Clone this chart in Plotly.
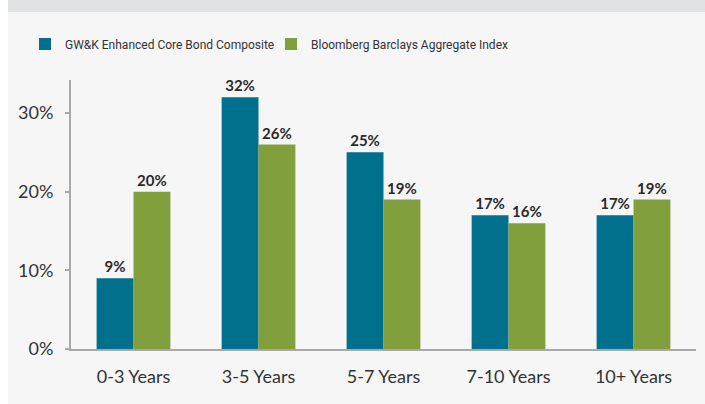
import plotly.graph_objects as go

categories = ["0-3 Years", "3-5 Years", "5-7 Years", "7-10 Years", "10+ Years"]
gwk_values = [9, 32, 25, 17, 17]
bbg_values = [20, 26, 19, 16, 19]
series_names = ["GW&K Enhanced Core Bond Composite", "Bloomberg Barclays Aggregate Index"]
y_ticks = [0, 10, 20, 30]
y_tick_labels = ["0%", "10%", "20%", "30%"]

W, H = 705, 404
ML, MR, MT, MB = 71, 9, 80, 55
PW, PH = W - ML - MR, H - MT - MB

FONT = "Lato, Open Sans, sans-serif"
LEG_FONT = "Roboto, sans-serif"

fig = go.Figure()
for name, vals, color in [(series_names[0], gwk_values, "#00708d"),
                          (series_names[1], bbg_values, "#829f3d")]:
    fig.add_trace(go.Bar(
        name=name, x=categories, y=vals, marker=dict(color=color, line=dict(width=0)),
        text=[f"{v}%" for v in vals], textposition="outside",
        textfont=dict(family=FONT, size=15, color="#2a2a2a", weight="bold"),
        cliponaxis=False,
    ))

def px_x(p):
    return (p - ML) / PW

def px_y(p):
    return (H - MB - p) / PH

shapes = [
    dict(type="rect", xref="paper", yref="paper", x0=px_x(8), x1=px_x(W), y0=px_y(H), y1=px_y(12),
         fillcolor="#f6f6f6", line=dict(width=0), layer="below"),
    dict(type="rect", xref="paper", yref="paper", x0=px_x(8), x1=px_x(W), y0=px_y(12), y1=px_y(0),
         fillcolor="#e1e2e4", line=dict(width=0), layer="below"),
]

fig.update_layout(
    width=W, height=H,
    margin=dict(l=ML, r=MR, t=MT, b=MB, pad=0),
    paper_bgcolor="white", plot_bgcolor="rgba(0,0,0,0)",
    barmode="group", bargap=0.41, bargroupgap=0,
    shapes=shapes,
    showlegend=True,
    legend=dict(orientation="h", x=px_x(25), y=px_y(44), xanchor="left", yanchor="middle",
                font=dict(family=LEG_FONT, size=12, color="#333333"),
                itemwidth=30, entrywidth=201, bgcolor="rgba(0,0,0,0)", traceorder="normal"),
    xaxis=dict(showline=True, linecolor="#a9a9ab", linewidth=2, ticks="",
               tickfont=dict(family=FONT, size=18, color="#333333"), showgrid=False,
               range=[-0.5, 4.5], ticklabelstandoff=10),
    yaxis=dict(range=[0, 34.2], tickvals=y_ticks, ticktext=y_tick_labels,
               showline=True, linecolor="#a9a9ab", linewidth=2, ticks="outside",
               ticklen=4, tickcolor="#a9a9ab", tickwidth=2, showgrid=False, zeroline=False,
               ticklabelstandoff=8,
               tickfont=dict(family=FONT, size=18, color="#333333")),
)

fig.write_html("out.html", post_script="document.body.style.margin='0';",
               config={"displayModeBar": False})
